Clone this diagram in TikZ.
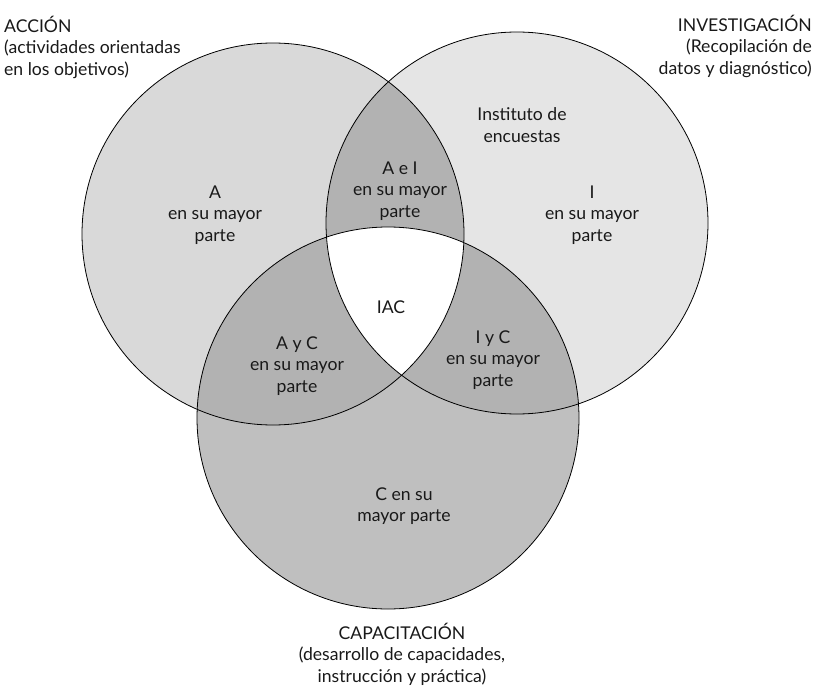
\documentclass[tikz,border=0pt]{standalone}
\usepackage{fontspec}
\setmainfont{Lato}
\definecolor{onlyA}{gray}{0.85}
\definecolor{onlyI}{gray}{0.90}
\definecolor{onlyC}{gray}{0.75}
\definecolor{pairAIC}{gray}{0.70}
\begin{document}
\begin{tikzpicture}[x=1pt,y=-1pt,
  lbl/.style={font=\fontsize{17.6}{21.4}\selectfont, align=center, inner sep=0pt, text=black!90},
  outline/.style={draw=black, line width=0.8pt}]
\useasboundingbox (0,0) rectangle (814,687);
% circle centres and radius
\coordinate (cA) at (273,234);
\coordinate (cI) at (517,223);
\coordinate (cC) at (388,418);
\def\rad{191}
% single-circle fills
\fill[onlyA] (cA) circle[radius=\rad];
\fill[onlyI] (cI) circle[radius=\rad];
\fill[onlyC] (cC) circle[radius=\rad];
% pairwise overlaps
\begin{scope}
  \clip (cA) circle[radius=\rad];
  \fill[pairAIC] (cI) circle[radius=\rad];
  \fill[pairAIC] (cC) circle[radius=\rad];
\end{scope}
\begin{scope}
  \clip (cI) circle[radius=\rad];
  \fill[pairAIC] (cC) circle[radius=\rad];
\end{scope}
% triple overlap
\begin{scope}
  \clip (cA) circle[radius=\rad];
  \clip (cI) circle[radius=\rad];
  \fill[white] (cC) circle[radius=\rad];
\end{scope}
% outlines
\draw[outline] (cA) circle[radius=\rad];
\draw[outline] (cI) circle[radius=\rad];
\draw[outline] (cC) circle[radius=\rad];
% region labels
\node[lbl] (tA) at (215,215) {A\\en su mayor\\parte};
\node[lbl] (tI) at (592,215) {I\\en su mayor\\parte};
\node[lbl] (tAI) at (400,191) {A e I\\en su mayor\\parte};
\node[lbl] (tIAC) at (391,307) {IAC};
\node[lbl] (tAC) at (297,366) {A y C\\en su mayor\\parte};
\node[lbl] (tIC) at (493,360) {I y C\\en su mayor\\parte};
\node[lbl] (tC) at (404,506) {C en su\\mayor parte};
\node[lbl] (tInst) at (522,125) {Instituto de\\encuestas};
% circle titles
\node[lbl, align=left, anchor=north west] (hA) at (4,16) {ACCIÓN\\(actividades orientadas\\en los objetivos)};
\node[lbl, align=right, anchor=north east] (hI) at (812,15) {INVESTIGACIÓN\\(Recopilación de\\datos y diagnóstico)};
\node[lbl, anchor=north] (hC) at (402,623) {CAPACITACIÓN\\(desarrollo de capacidades,\\instrucción y práctica)};
\end{tikzpicture}
\end{document}
